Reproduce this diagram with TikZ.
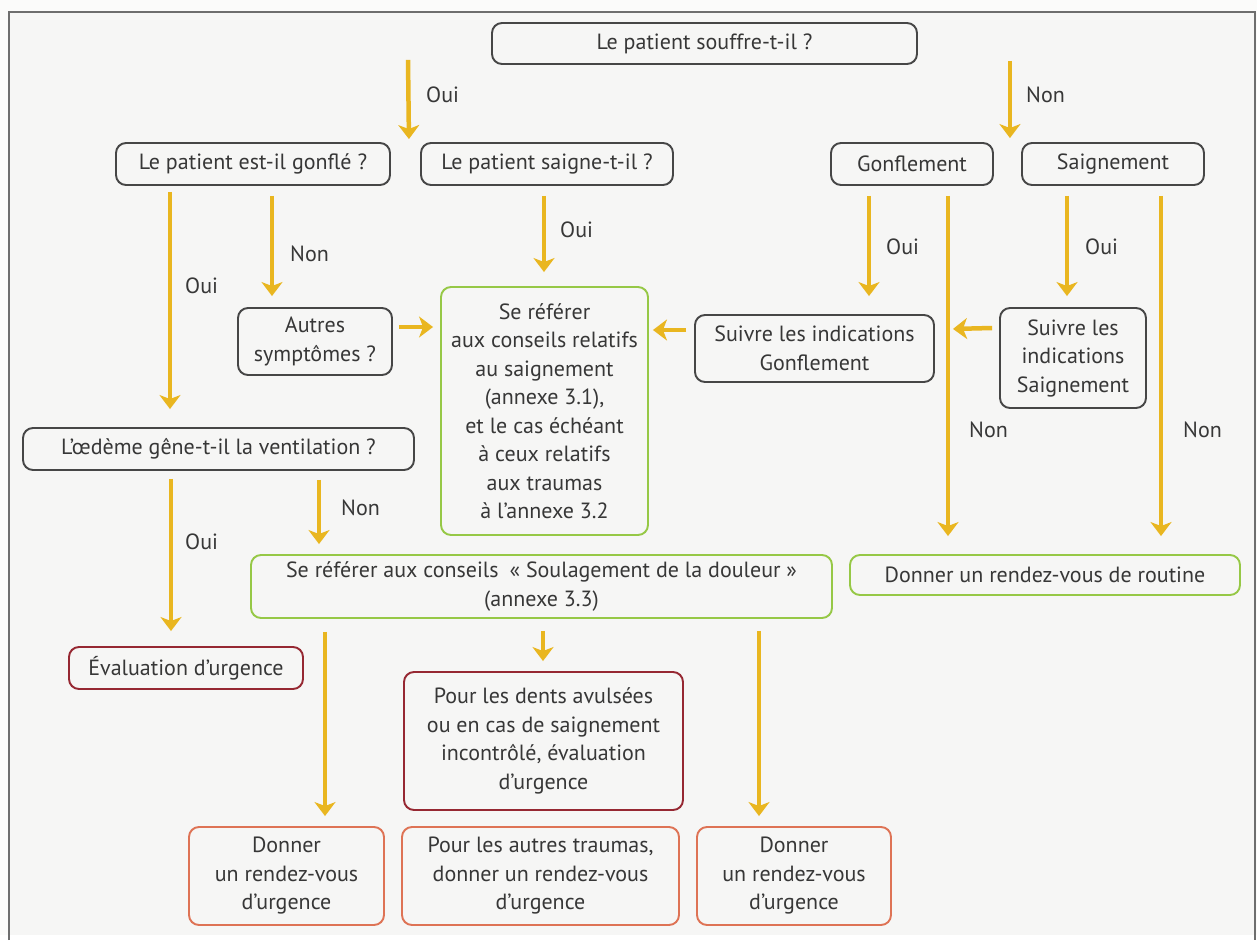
\documentclass[tikz,border=0pt]{standalone}
\usepackage{fontspec}
\setmainfont{PT Sans}
\usetikzlibrary{arrows.meta,calc}
\definecolor{arrowc}{RGB}{233,182,32}
\definecolor{boxgray}{RGB}{70,70,70}
\definecolor{txt}{RGB}{55,55,55}
\definecolor{greenb}{RGB}{150,200,70}
\definecolor{redb}{RGB}{150,40,50}
\definecolor{orangeb}{RGB}{222,115,85}
\definecolor{bg}{RGB}{246,246,245}
\definecolor{outer}{RGB}{251,251,250}
\definecolor{framec}{RGB}{110,110,110}
\begin{document}
\begin{tikzpicture}[x=1pt,y=-1pt,
  every node/.style={text=txt, font=\fontsize{22}{28.5}\selectfont},
  boxbase/.style={rounded corners=10pt, line width=1.9pt, align=center, inner sep=0pt},
  graybox/.style={boxbase, draw=boxgray},
  greenbox/.style={boxbase, draw=greenb},
  redbox/.style={boxbase, draw=redb},
  orangebox/.style={boxbase, draw=orangeb},
  arr/.style={draw=arrowc, line width=4.5pt, -{Stealth[length=14pt,width=21pt,inset=4pt]}},
  lbl/.style={anchor=west, inner sep=0pt},
]
\fill[outer] (0,0) rectangle (1257,935);
\fill[bg] (9,12) rectangle (1255,935);
\draw[framec, line width=2pt] (9,940) -- (9,12) -- (1255,12) -- (1255,940);
\useasboundingbox (0,0) rectangle (1257,935);

% boxes
\node[graybox, minimum width=425pt, minimum height=41pt] (q1) at (704.5,43.5) {Le patient souffre-t-il ?};
\node[graybox, minimum width=274pt, minimum height=42pt] (gonfle) at (253,164) {Le patient est-il gonflé ?};
\node[graybox, minimum width=252pt, minimum height=42pt] (saigne) at (547,164) {Le patient saigne-t-il ?};
\node[graybox, minimum width=162pt, minimum height=42pt] (gonflement) at (912,164) {Gonflement};
\node[graybox, minimum width=182pt, minimum height=42pt] (saignement) at (1113,164) {Saignement};
\node[graybox, minimum width=154pt, minimum height=67pt] (autres) at (315,341.5) {Autres\\symptômes ?};
\node[greenbox, minimum width=207pt, minimum height=248pt] (refer) at (544.5,411) {Se référer\\aux conseils relatifs\\au saignement\\(annexe 3.1),\\et le cas échéant\\à ceux relatifs\\aux traumas\\à l’annexe 3.2};
\node[graybox, minimum width=239pt, minimum height=67pt] (suivG) at (814.5,348.5) {Suivre les indications\\Gonflement};
\node[graybox, minimum width=146pt, minimum height=100pt] (suivS) at (1073,358) {Suivre les\\indications\\Saignement};
\node[graybox, minimum width=391pt, minimum height=42pt] (oedeme) at (218.5,449) {L’œdème gêne-t-il la ventilation ?};
\node[greenbox, minimum width=581pt, minimum height=63pt] (soulag) at (541.5,586.5) {Se référer aux conseils\enspace«~Soulagement de la douleur~»\\(annexe 3.3)};
\node[greenbox, minimum width=390pt, minimum height=40pt] (routine) at (1045,575) {Donner un rendez-vous de routine};
\node[redbox, minimum width=234pt, minimum height=42pt] (evalU) at (186,668) {Évaluation d’urgence};
\node[redbox, minimum width=279pt, minimum height=138pt] (dents) at (543.5,741) {Pour les dents avulsées\\ou en cas de saignement\\incontrôlé, évaluation\\d’urgence};
\node[orangebox, minimum width=195pt, minimum height=98pt] (donner1) at (286.5,876) {Donner\\un rendez-vous\\d’urgence};
\node[orangebox, minimum width=277pt, minimum height=98pt] (autresTr) at (540.5,876) {Pour les autres traumas,\\donner un rendez-vous\\d’urgence};
\node[orangebox, minimum width=194pt, minimum height=98pt] (donner2) at (794,876) {Donner\\un rendez-vous\\d’urgence};

% arrows
\draw[arr] ([shift={(-296.5,-5)}]q1.south) -- ([shift={(18,-3)}]gonfle.north east);
\draw[arr] ([shift={(92,-4)}]q1.south east) -- ([shift={(16,-4)}]gonflement.north east);
\draw[arr] ([shift={(-83,6)}]gonfle.south) -- ([shift={(-48.5,-18)}]oedeme.north);
\draw[arr] ([shift={(19,10)}]gonfle.south) -- ([shift={(-43,-11)}]autres.north);
\draw[arr] ([shift={(-3,10)}]saigne.south) -- ([shift={(-0.5,-14)}]refer.north);
\draw[arr] ([shift={(6,-14.5)}]autres.east) -- ([shift={(-7,-84)}]refer.west);
\draw[arr] ([shift={(-8,-18.5)}]suivG.west) -- ([shift={(4,-81)}]refer.east);
\draw[arr] ([shift={(-43,10)}]gonflement.south) -- ([shift={(54.5,-18)}]suivG.north);
\draw[arr] ([shift={(36,10)}]gonflement.south) -- ([shift={(-97,-18)}]routine.north);
\draw[arr] ([shift={(-46,10)}]saignement.south) -- ([shift={(-6,-11)}]suivS.north);
\draw[arr] ([shift={(48,10)}]saignement.south) -- ([shift={(116,-18)}]routine.north);
\draw[arr] ([shift={(-7,-30)}]suivS.west) -- ([shift={(41,143)}]gonflement.south);
\draw[arr] ([shift={(-47.5,8)}]oedeme.south) -- ([shift={(-15,-15)}]evalU.north);
\draw[arr] ([shift={(100.5,9)}]oedeme.south) -- ([shift={(-222.5,-10)}]soulag.north);
\draw[arr] ([shift={(-216.5,13)}]soulag.south) -- ([shift={(38.5,-10)}]donner1.north);
\draw[arr] ([shift={(1.5,12)}]soulag.south) -- ([shift={(-0.5,-10)}]dents.north);
\draw[arr] ([shift={(217.5,12)}]soulag.south) -- ([shift={(-35,-10)}]donner2.north);

% labels
\node[lbl] (l1) at (426,95) {Oui};
\node[lbl] (l2) at (1026,95) {Non};
\node[lbl] (l3) at (185,286) {Oui};
\node[lbl] (l4) at (290,254) {Non};
\node[lbl] (l5) at (560,230) {Oui};
\node[lbl] (l6) at (886,247) {Oui};
\node[lbl] (l7) at (1085,247) {Oui};
\node[lbl] (l8) at (969,430) {Non};
\node[lbl] (l9) at (1183,430) {Non};
\node[lbl] (l10) at (185,542) {Oui};
\node[lbl] (l11) at (341,508) {Non};
\end{tikzpicture}
\end{document}
